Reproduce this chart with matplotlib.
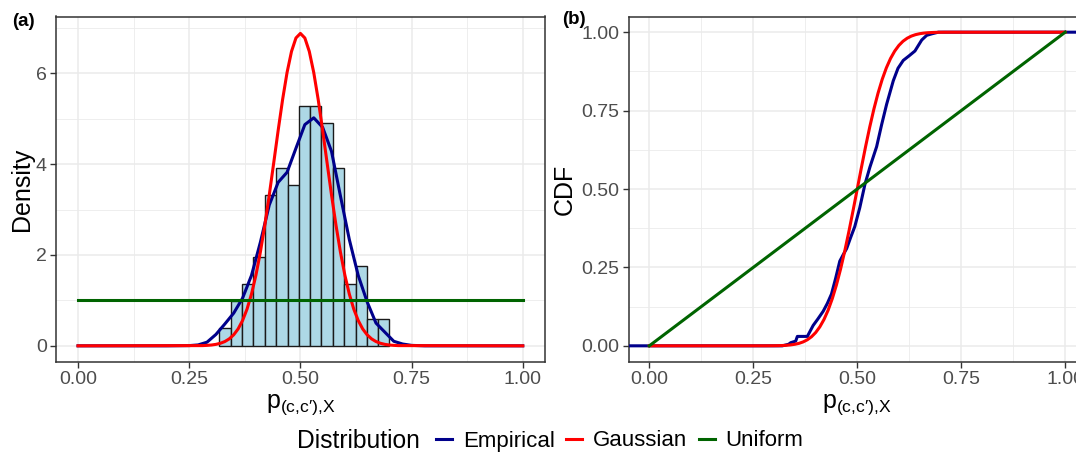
import numpy as np
import matplotlib
matplotlib.use("Agg")
import matplotlib.pyplot as plt
from matplotlib.lines import Line2D

plt.rcParams['font.family'] = ['Liberation Sans', 'DejaVu Sans']
plt.rcParams['mathtext.fontset'] = 'custom'
plt.rcParams['mathtext.rm'] = 'Liberation Sans'
plt.rcParams['mathtext.it'] = 'Liberation Sans'

# ---- data ----
# histogram (panel a): bin edges and density heights
hist_edges = [0.318, 0.343, 0.369, 0.394, 0.420, 0.445, 0.471, 0.496,
              0.522, 0.547, 0.573, 0.598, 0.624, 0.649, 0.675, 0.700]
hist_density = [0.39, 0.98, 1.37, 1.96, 3.33, 3.92, 3.53, 5.29,
                5.29, 4.90, 3.92, 1.37, 1.76, 0.59, 0.59]

# empirical kernel density (blue)
kde_x = [0.00, 0.20, 0.25, 0.27, 0.29, 0.31, 0.33, 0.35, 0.37, 0.39,
         0.41, 0.43, 0.45, 0.47, 0.49, 0.51, 0.53, 0.55, 0.57, 0.59,
         0.61, 0.63, 0.65, 0.67, 0.69, 0.71, 0.73, 0.75, 0.78, 1.00]
kde_y = [0.00, 0.00, 0.005, 0.02, 0.08, 0.25, 0.48, 0.72, 1.05, 1.55,
         2.28, 3.10, 3.60, 3.82, 4.35, 4.87, 5.02, 4.81, 4.28, 3.30,
         2.34, 1.55, 0.97, 0.50, 0.30, 0.10, 0.04, 0.01, 0.00, 0.00]

# gaussian density and cdf (red)
gauss_x = [0.00, 0.28, 0.29, 0.30, 0.31, 0.32, 0.33, 0.34, 0.35, 0.36, 0.37,
           0.38, 0.39, 0.40, 0.41, 0.42, 0.43, 0.44, 0.45, 0.46, 0.47,
           0.48, 0.49, 0.50, 0.51, 0.52, 0.53, 0.54, 0.55, 0.56, 0.57,
           0.58, 0.59, 0.60, 0.61, 0.62, 0.63, 0.64, 0.65, 0.66, 0.67,
           0.68, 0.69, 0.70, 0.71, 0.72, 1.00]
gauss_pdf = [0.0, 0.005, 0.010, 0.018, 0.032, 0.056, 0.094, 0.153, 0.243, 0.373, 0.558,
             0.809, 1.139, 1.556, 2.064, 2.657, 3.320, 4.028, 4.743, 5.423, 6.017,
             6.481, 6.777, 6.878, 6.777, 6.481, 6.017, 5.423, 4.743, 4.028, 3.320,
             2.657, 2.064, 1.556, 1.139, 0.809, 0.558, 0.373, 0.243, 0.153, 0.094,
             0.056, 0.032, 0.018, 0.010, 0.005, 0.0]
gauss_cdf = [0.0, 0.0001, 0.0002, 0.0003, 0.0005, 0.0010, 0.0017, 0.0029, 0.0049, 0.0079, 0.0125,
             0.0193, 0.0289, 0.0423, 0.0604, 0.0839, 0.1137, 0.1504, 0.1943, 0.2452, 0.3025,
             0.3651, 0.4316, 0.5000, 0.5684, 0.6349, 0.6975, 0.7548, 0.8057, 0.8496, 0.8863,
             0.9161, 0.9396, 0.9577, 0.9711, 0.9807, 0.9875, 0.9921, 0.9951, 0.9971, 0.9983,
             0.9990, 0.9995, 0.9997, 0.9999, 0.9999, 1.0]

# empirical cdf (blue)
ecdf_x = [-0.10, 0.320, 0.335, 0.340, 0.352, 0.356, 0.380, 0.384, 0.394, 0.405,
          0.418, 0.428, 0.438, 0.448, 0.458, 0.466, 0.4745, 0.484, 0.494, 0.506,
          0.5185, 0.5305, 0.5466, 0.5586, 0.5706, 0.5866, 0.598, 0.6106, 0.625, 0.6387,
          0.648, 0.655, 0.667, 0.680, 0.695, 1.20]
ecdf_y = [0.0, 0.0, 0.005, 0.01, 0.015, 0.03, 0.03, 0.04, 0.065, 0.085,
          0.11, 0.135, 0.165, 0.215, 0.27, 0.29, 0.31, 0.345, 0.38, 0.44,
          0.515, 0.57, 0.635, 0.705, 0.77, 0.845, 0.885, 0.91, 0.925, 0.94,
          0.96, 0.975, 0.99, 0.995, 1.0, 1.0]

# uniform
unif_x = [0.0, 1.0]
unif_pdf = [1.0, 1.0]
unif_cdf = [0.0, 1.0]

series_names = ['Empirical', 'Gaussian', 'Uniform']
series_colors = ['#00008B', '#FF0000', '#006400']

# ---- figure ----
W, H = 1076, 453
fig = plt.figure(figsize=(W / 100, H / 100), dpi=100)
ax1 = fig.add_axes([55.8 / W, 1 - 361.5 / H, (545 - 55.8) / W, 345 / H])
ax2 = fig.add_axes([628.5 / W, 1 - 361.5 / H, (1086 - 628.5) / W, 345 / H])

lw = 2.2
tick_col = '#4D4D4D'
frame_col = '#333333'


def style(ax):
    ax.set_axisbelow(True)
    ax.grid(which='major', color='#EBEBEB', lw=1.1)
    ax.grid(which='minor', color='#EBEBEB', lw=0.6)
    ax.tick_params(which='major', length=4, width=1.0, color=frame_col,
                   labelsize=14, labelcolor=tick_col, pad=2.5)
    ax.tick_params(which='minor', length=0)
    for s in ax.spines.values():
        s.set_color(frame_col)
        s.set_linewidth(1.1)
    ax.set_xlim(-0.05, 1.05)
    ax.set_xticks([0, 0.25, 0.5, 0.75, 1.0])
    ax.set_xticklabels(['0.00', '0.25', '0.50', '0.75', '1.00'])
    ax.set_xticks([0.125, 0.375, 0.625, 0.875], minor=True)


# panel (a)
ax1.bar(hist_edges[:-1], hist_density, width=np.diff(hist_edges), align='edge',
        color='#ADD8E6', edgecolor='#1A1A1A', linewidth=1.0, zorder=2)
ax1.plot(kde_x, kde_y, color=series_colors[0], lw=lw, zorder=3)
ax1.plot(gauss_x, gauss_pdf, color=series_colors[1], lw=lw, zorder=4)
ax1.plot(unif_x, unif_pdf, color=series_colors[2], lw=lw, zorder=5)
style(ax1)
ax1.set_ylim(-0.345, 7.25)
ax1.set_yticks([0, 2, 4, 6])
ax1.set_yticks([1, 3, 5, 7], minor=True)

# panel (b)
ax2.plot(ecdf_x, ecdf_y, color=series_colors[0], lw=lw, zorder=3)
ax2.plot(gauss_x, gauss_cdf, color=series_colors[1], lw=lw, zorder=4)
ax2.plot(unif_x, unif_cdf, color=series_colors[2], lw=lw, zorder=5)
style(ax2)
ax2.set_ylim(-0.05, 1.05)
ax2.set_yticks([0, 0.25, 0.5, 0.75, 1.0])
ax2.set_yticklabels(['0.00', '0.25', '0.50', '0.75', '1.00'])
ax2.set_yticks([0.125, 0.375, 0.625, 0.875], minor=True)

xlab = "$\\mathrm{p}_{\\mathrm{(c{,}c\u2032){,}X}}$"
for ax, ylab, ylx in [(ax1, 'Density', -0.069), (ax2, 'CDF', -0.139)]:
    ax.set_xlabel(xlab, fontsize=18, va='top')
    ax.xaxis.set_label_coords(0.5, -0.088)
    ax.set_ylabel(ylab, fontsize=18, va='center')
    ax.yaxis.set_label_coords(ylx, 0.5)

# panel tags
fig.text(12 / W, 1 - 22 / H, '(a)', fontsize=13.5, fontweight='bold', va='center', ha='left')
fig.text(562 / W, 1 - 20 / H, '(b)', fontsize=13.5, fontweight='bold', va='center', ha='left')

# legend at bottom
fig.text(297 / W, 1 - 441 / H, 'Distribution', fontsize=17.7, va='center', ha='left')
handles = [Line2D([], [], color=c, lw=lw) for c in series_colors]
fig.legend(handles, series_names, loc='center left', ncols=3,
           bbox_to_anchor=(436 / W, 1 - 441 / H), frameon=False, fontsize=16,
           handlelength=0.72, handletextpad=0.48, columnspacing=0.52,
           borderpad=0, borderaxespad=0)

fig.savefig('out.png', dpi=100)
